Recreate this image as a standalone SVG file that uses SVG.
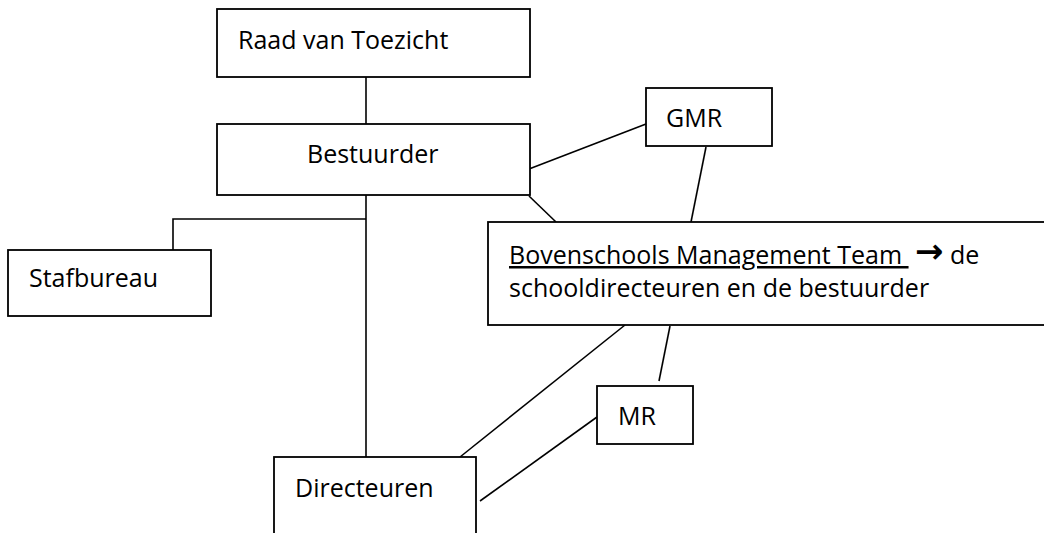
<svg xmlns="http://www.w3.org/2000/svg" width="1044" height="533" viewBox="0 0 1044 533">
<style>
.box{fill:#fff;stroke:#000;stroke-width:1.8}
.ln{stroke:#000;stroke-width:1.6;fill:none}
text{font-family:"Open Sans","Liberation Sans",Arial,sans-serif;font-size:25px;fill:#000}
.arr{font-family:"DejaVu Sans",sans-serif;font-size:34px;font-weight:bold}
</style>
<rect width="1044" height="533" fill="#fff"/>
<g id="connectors">
<line class="ln" x1="366" y1="77" x2="366" y2="124"/>
<line class="ln" x1="366" y1="195" x2="366" y2="457"/>
<polyline class="ln" points="173,250 173,219 366,219"/>
<line class="ln" x1="529" y1="169" x2="646" y2="124"/>
<line class="ln" x1="529" y1="196" x2="556" y2="222"/>
<line class="ln" x1="706" y1="147" x2="691" y2="222"/>
<line class="ln" x1="625" y1="325" x2="460" y2="457"/>
<line class="ln" x1="670" y1="326" x2="659" y2="381"/>
<line class="ln" x1="597" y1="417" x2="480" y2="501"/>
</g>
<g id="raad"><rect class="box" x="217" y="9" width="313" height="68"/><text x="238" y="49">Raad van Toezicht</text></g>
<g id="bestuurder"><rect class="box" x="217" y="124" width="313" height="71"/><text x="307" y="163">Bestuurder</text></g>
<g id="gmr"><rect class="box" x="646" y="88" width="126" height="58"/><text x="666" y="127">GMR</text></g>
<g id="stafbureau"><rect class="box" x="8" y="250" width="203" height="66"/><text x="29" y="287">Stafbureau</text></g>
<g id="bmt"><rect class="box" x="488" y="222" width="560" height="103"/><text x="509" y="264"><tspan text-decoration="underline">Bovenschools Management Team </tspan><tspan class="arr" x="915" y="263">→</tspan><tspan x="950" y="264">de</tspan></text><text x="509" y="297">schooldirecteuren en de bestuurder</text></g>
<g id="mr"><rect class="box" x="597" y="386" width="96" height="58"/><text x="618" y="425">MR</text></g>
<g id="directeuren"><rect class="box" x="274" y="457" width="202" height="90"/><text x="295" y="497">Directeuren</text></g>
</svg>
